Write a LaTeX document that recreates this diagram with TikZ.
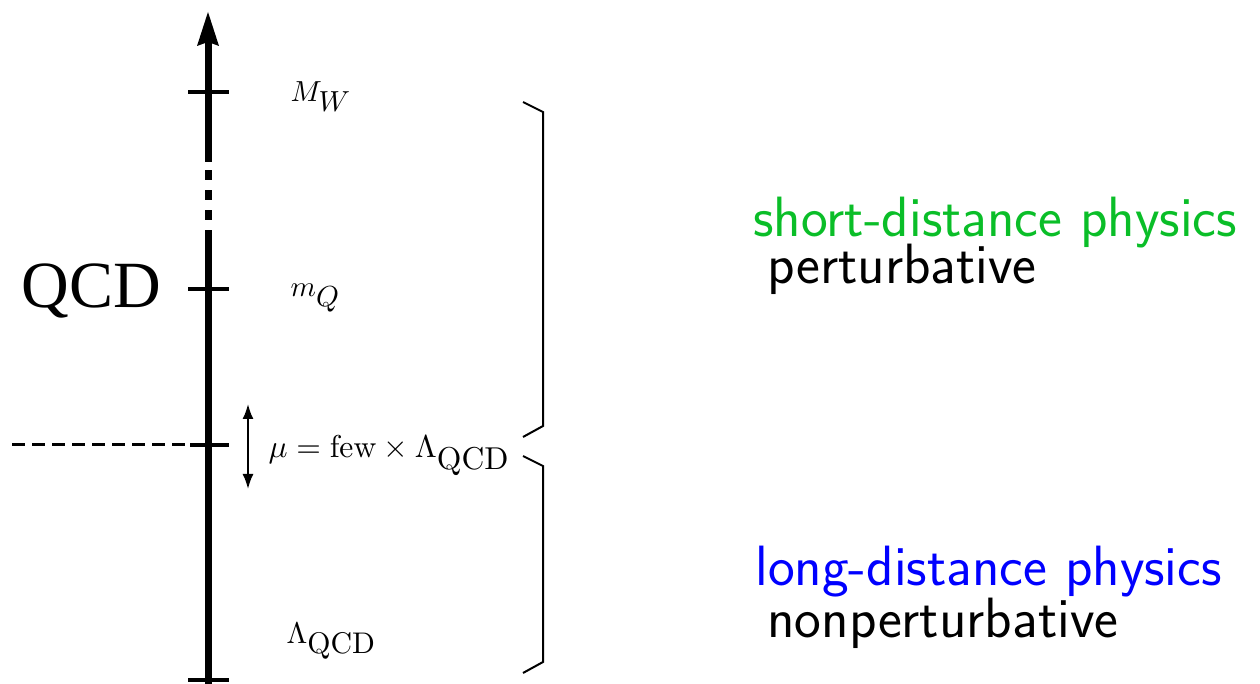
\documentclass[tikz,border=0pt]{standalone}
\usepackage{fontspec}
\usetikzlibrary{arrows.meta}
\newfontfamily\qcdfont{Liberation Serif}
\definecolor{sdgreen}{RGB}{10,190,40}
\definecolor{ldblue}{RGB}{0,0,255}
\tikzset{
  axisline/.style={line width=3.5pt},
  scaletick/.style={line width=2pt},
  bracket/.style={line width=1pt, line join=miter},
  mathlbl/.style={scale=1.45, inner sep=0pt, anchor=base west},
  bigtext/.style={font=\fontsize{28.4}{32}\selectfont\sffamily, inner sep=0pt, anchor=base west},
  dbl/.style={line width=1pt, {Latex[length=7.5pt,width=5.5pt]}-{Latex[length=7.5pt,width=5.5pt]}}
}
\begin{document}
\begin{tikzpicture}[x=0.5pt,y=-0.5pt]
\useasboundingbox (0,0) rectangle (1260,684);
% axis coordinates
\coordinate (abot) at (208,684);
\coordinate (a1) at (208,230);
\coordinate (d1a) at (208,220); \coordinate (d1b) at (208,210);
\coordinate (d2a) at (208,200); \coordinate (d2b) at (208,190);
\coordinate (d3a) at (208,180); \coordinate (d3b) at (208,170);
\coordinate (a2) at (208,162);
\coordinate (a3) at (208,42);
\coordinate (tip) at (208,12);
\draw[axisline] (abot) -- (a1);
\draw[axisline] (d1a) -- (d1b);
\draw[axisline] (d2a) -- (d2b);
\draw[axisline] (d3a) -- (d3b);
\draw[axisline] (a2) -- (a3);
\fill (tip) -- (197,46) -- (208,42) -- (219,46) -- cycle;
% ticks
\coordinate (tWl) at (188,92);  \coordinate (tWr) at (229,92);
\coordinate (tQl) at (188,289); \coordinate (tQr) at (229,289);
\coordinate (tMl) at (190,445); \coordinate (tMr) at (229,445);
\coordinate (tLl) at (188,680); \coordinate (tLr) at (229,680);
\draw[scaletick] (tWl) -- (tWr);
\draw[scaletick] (tQl) -- (tQr);
\draw[scaletick] (tMl) -- (tMr);
\draw[scaletick] (tLl) -- (tLr);
% dashed line
\coordinate (dl) at (12,445);
\coordinate (axmu) at (208,445);
\draw[line width=1.5pt, dash pattern=on 6.5pt off 3.5pt] (dl) -- (axmu);
% double arrow
\coordinate (mutop) at (248,404);
\coordinate (mubot) at (248,489);
\draw[dbl] (mutop) -- (mubot);
% labels
\node[font=\fontsize{33}{38}\selectfont\qcdfont, inner sep=0pt, anchor=base west] (qcd) at (21,308) {QCD};
\node[mathlbl] (mw) at (290,102) {$M_{\mbox{$W$}}$};
\node[mathlbl] (mq) at (290,297) {$m_{\mbox{$Q$}}$};
\node[mathlbl, scale=1.09] (mu) at (268,458) {$\mu=\mathrm{few}\times\Lambda_{\mbox{QCD}}$};
\node[mathlbl, scale=1.03] (lq) at (286,643) {$\Lambda_{\mbox{QCD}}$};
% braces
\coordinate (b1a) at (523,102); \coordinate (b1b) at (543,112);
\coordinate (b1c) at (543,426); \coordinate (b1d) at (523,437);
\coordinate (b2a) at (523,456); \coordinate (b2b) at (543,466);
\coordinate (b2c) at (543,662); \coordinate (b2d) at (523,673);
\draw[bracket] (b1a) -- (b1b) -- (b1c) -- (b1d);
\draw[bracket] (b2a) -- (b2b) -- (b2c) -- (b2d);
% right texts
\node[bigtext, text=sdgreen] (sd) at (753,237) {short-distance physics};
\node[bigtext] (pt) at (767,284) {perturbative};
\node[bigtext, text=ldblue] (ld) at (755,585) {long-distance physics};
\node[bigtext] (npt) at (767,637) {nonperturbative};
\end{tikzpicture}
\end{document}
